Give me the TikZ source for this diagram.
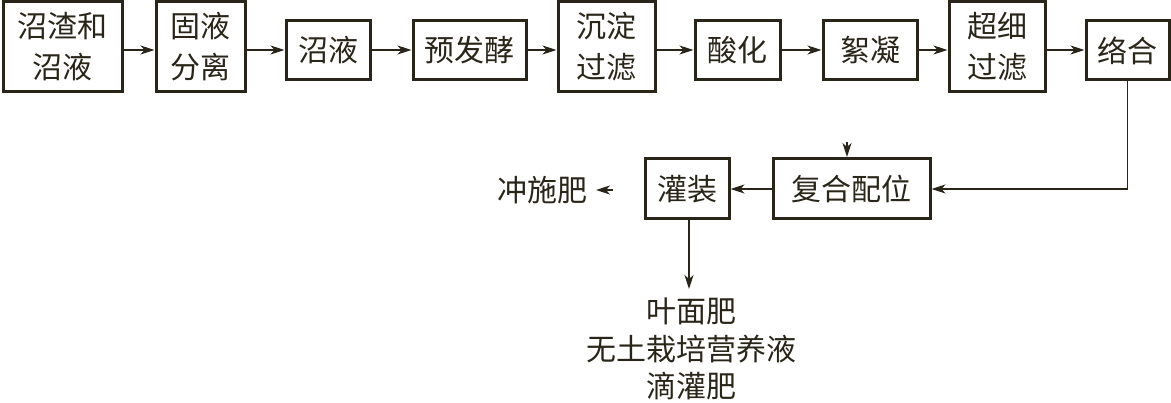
\documentclass[tikz,border=0pt]{standalone}
\usepackage{fontspec}
\newfontfamily\cjk{Noto Sans CJK SC}
\usetikzlibrary{arrows.meta}
\definecolor{ink}{rgb}{0.16,0.15,0.10}
\begin{document}
\begin{tikzpicture}[x=1pt,y=-1pt,
  box/.style={draw=ink,line width=3pt,inner sep=0pt,align=center,text=ink,
    font=\cjk\fontsize{30}{41}\selectfont},
  lbl/.style={inner sep=0pt,align=center,text=ink,font=\cjk\fontsize{30}{37.5}\selectfont},
  arr/.style={draw=ink,line width=1.4pt,-{Stealth[length=14pt,width=9pt,inset=4pt]}}]
\useasboundingbox (0,0) rectangle (1171,403);
\node[box,minimum width=119pt,minimum height=90pt] (b1) at (62.5,47) {沼渣和\\沼液};
\node[box,minimum width=89pt,minimum height=90pt] (b2) at (200.5,47) {固液\\分离};
\node[box,minimum width=84pt,minimum height=59pt] (b3) at (328,50.5) {沼液};
\node[box,minimum width=113pt,minimum height=59pt] (b4) at (469.5,50.5) {预发酵};
\node[box,minimum width=97pt,minimum height=90pt] (b5) at (606.5,47) {沉淀\\过滤};
\node[box,minimum width=85pt,minimum height=59pt] (b6) at (737.5,50.5) {酸化};
\node[box,minimum width=94pt,minimum height=59pt] (b7) at (870,50.5) {絮凝};
\node[box,minimum width=96pt,minimum height=90pt] (b8) at (997,47) {超细\\过滤};
\node[box,minimum width=83pt,minimum height=59pt] (b9) at (1127.5,50.5) {络合};
\foreach \a/\b in {b1/b2,b2/b3,b3/b4,b4/b5,b5/b6,b6/b7,b7/b8,b8/b9}
  \draw[arr] (\a.east |- 0,50) -- (\b.west |- 0,50);
\node[box,minimum width=84pt,minimum height=60pt] (gz) at (687,189) {灌装};
\node[box,minimum width=157pt,minimum height=60pt] (fh) at (851.5,189) {复合配位};
\draw[arr] (b9.south) |- (fh.east);
\draw[arr] (fh.west) -- (gz.east);
\coordinate (ta) at (847,142);
\coordinate (tb) at (847,157);
\draw[arr] (ta) -- (tb);
\node[lbl] (cs) at (542,190) {冲施肥};
\coordinate (tc) at (613,190);
\coordinate (td) at (596,190);
\draw[arr] (tc) -- (td);
\node[lbl,anchor=north] (out) at (691,298) {叶面肥\\无土栽培营养液\\滴灌肥};
\draw[arr] (gz.south -| 689,0) -- (689,289);
\end{tikzpicture}
\end{document}
